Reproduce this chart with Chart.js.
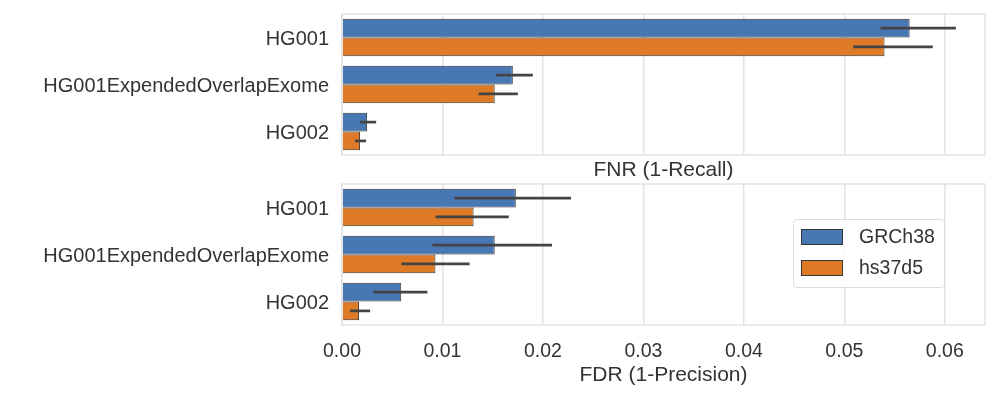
<!DOCTYPE html>
<html lang="en">
<head>
<meta charset="UTF-8">
<title>FNR / FDR</title>
<script src="https://cdn.jsdelivr.net/npm/chart.js"></script>
<style>
  body { margin: 0; background: #fff; width: 1004px; height: 398px; overflow: hidden; position: relative; font-family: "Liberation Sans", Arial, sans-serif; }
  #topWrap { position: absolute; left: 0; top: 0; width: 1004px; height: 190px; }
  #botWrap { position: absolute; left: 0; top: 178px; width: 1004px; height: 220px; }
  .legend { position: absolute; left: 793px; top: 219px; width: 150px; height: 67px; border: 1px solid #dcdcdc; border-radius: 4px; background: rgba(255,255,255,0.85); }
  .legend .row { position: absolute; left: 7px; height: 16px; }
  .legend .sw { position: absolute; left: 0; top: 0; width: 40px; height: 14px; border: 1px solid #333; }
  .legend .lab { position: absolute; left: 58px; top: -4px; font-size: 19.5px; color: #333; white-space: nowrap; }
</style>
</head>
<body>
<div id="topWrap"><canvas id="fnrChart"></canvas></div>
<div id="botWrap"><canvas id="fdrChart"></canvas></div>
<div class="legend">
  <div class="row" style="top:9px"><div class="sw" style="background:#4878b4"></div><div class="lab" id="lab0"></div></div>
  <div class="row" style="top:40px"><div class="sw" style="background:#df7b27"></div><div class="lab" id="lab1"></div></div>
</div>
<script>
// categories and series
const samples = ['HG001', 'HG001ExpendedOverlapExome', 'HG002'];
const refs = ['GRCh38', 'hs37d5'];
const colors = ['#4878b4', '#df7b27'];

// FNR (1-Recall): mean and confidence interval
const fnrGRCh38 = [0.0565, 0.0170, 0.0025];
const fnrGRCh38Lo = [0.0536, 0.0153, 0.0018];
const fnrGRCh38Hi = [0.0611, 0.0190, 0.0034];
const fnrHs37d5 = [0.0540, 0.0152, 0.0018];
const fnrHs37d5Lo = [0.0509, 0.0136, 0.0013];
const fnrHs37d5Hi = [0.0588, 0.0175, 0.0024];

// FDR (1-Precision)
const fdrGRCh38 = [0.0173, 0.0152, 0.0059];
const fdrGRCh38Lo = [0.0112, 0.0090, 0.0031];
const fdrGRCh38Hi = [0.0228, 0.0209, 0.0085];
const fdrHs37d5 = [0.0131, 0.0093, 0.0017];
const fdrHs37d5Lo = [0.0093, 0.0059, 0.0008];
const fdrHs37d5Hi = [0.0166, 0.0127, 0.0028];

const xTicks = [0, 0.01, 0.02, 0.03, 0.04, 0.05, 0.06];
const xMax = 0.064;

document.getElementById('lab0').textContent = refs[0];
document.getElementById('lab1').textContent = refs[1];

Chart.defaults.font.family = '"Liberation Sans", Arial, sans-serif';
Chart.defaults.color = '#333';

// draws the error bars through the x scale and the frame round the plot
const errorBars = {
  id: 'errorBars',
  afterDatasetsDraw(chart) {
    const ctx = chart.ctx;
    const xs = chart.scales.x;
    chart.data.datasets.forEach((ds, di) => {
      const meta = chart.getDatasetMeta(di);
      meta.data.forEach((bar, i) => {
        const x1 = xs.getPixelForValue(ds.lo[i]);
        const x2 = xs.getPixelForValue(ds.hi[i]);
        ctx.save();
        ctx.strokeStyle = '#444';
        ctx.lineWidth = 2.7;
        ctx.beginPath();
        ctx.moveTo(x1, bar.y);
        ctx.lineTo(x2, bar.y);
        ctx.stroke();
        ctx.restore();
      });
    });
    const a = chart.chartArea;
    ctx.save();
    ctx.strokeStyle = '#e3e3e3';
    ctx.lineWidth = 1.5;
    ctx.strokeRect(a.left, a.top, a.right - a.left, a.bottom - a.top);
    ctx.restore();
  }
};

function noPad(ax) {
  ax.paddingTop = 0;
  ax.paddingBottom = 0;
  ax.paddingLeft = 0;
  ax.paddingRight = 0;
}

function makeChart(id, vals, title, showTicks, padTop, xHeight, titleBottom) {
  const datasets = refs.map((r, k) => ({
    label: r,
    data: vals[k][0],
    lo: vals[k][1],
    hi: vals[k][2],
    backgroundColor: colors[k],
    borderColor: '#333',
    borderWidth: 1,
    categoryPercentage: 0.8,
    barPercentage: 1.0
  }));
  return new Chart(document.getElementById(id), {
    type: 'bar',
    data: { labels: samples, datasets: datasets },
    options: {
      indexAxis: 'y',
      responsive: true,
      maintainAspectRatio: false,
      animation: false,
      layout: { padding: { left: 0, right: 19, top: padTop, bottom: 0 } },
      plugins: { legend: { display: false }, tooltip: { enabled: false } },
      scales: {
        x: {
          min: 0,
          max: xMax,
          afterBuildTicks: (ax) => { ax.ticks = xTicks.map(v => ({ value: v })); },
          afterFit: (ax) => { ax.height = xHeight; noPad(ax); },
          grid: { color: '#e3e3e3', lineWidth: 1.5, drawTicks: false },
          border: { display: false },
          ticks: {
            display: showTicks,
            padding: 15,
            font: { size: 19.5 },
            color: '#333',
            callback: (v) => Number(v).toFixed(2)
          },
          title: { display: true, text: title, font: { size: 21 }, color: '#333', padding: { top: 2, bottom: titleBottom } }
        },
        y: {
          afterFit: (ax) => { ax.width = 342; noPad(ax); },
          grid: { display: false, drawTicks: false },
          border: { display: false },
          ticks: { padding: 13, labelOffset: 2, font: { size: 20 }, color: '#333' }
        }
      }
    },
    plugins: [errorBars]
  });
}

makeChart('fnrChart', [[fnrGRCh38, fnrGRCh38Lo, fnrGRCh38Hi], [fnrHs37d5, fnrHs37d5Lo, fnrHs37d5Hi]],
  'FNR (1-Recall)', false, 14, 35, 7);
makeChart('fdrChart', [[fdrGRCh38, fdrGRCh38Lo, fdrGRCh38Hi], [fdrHs37d5, fdrHs37d5Lo, fdrHs37d5Hi]],
  'FDR (1-Precision)', true, 6, 73, 10);
</script>
</body>
</html>
